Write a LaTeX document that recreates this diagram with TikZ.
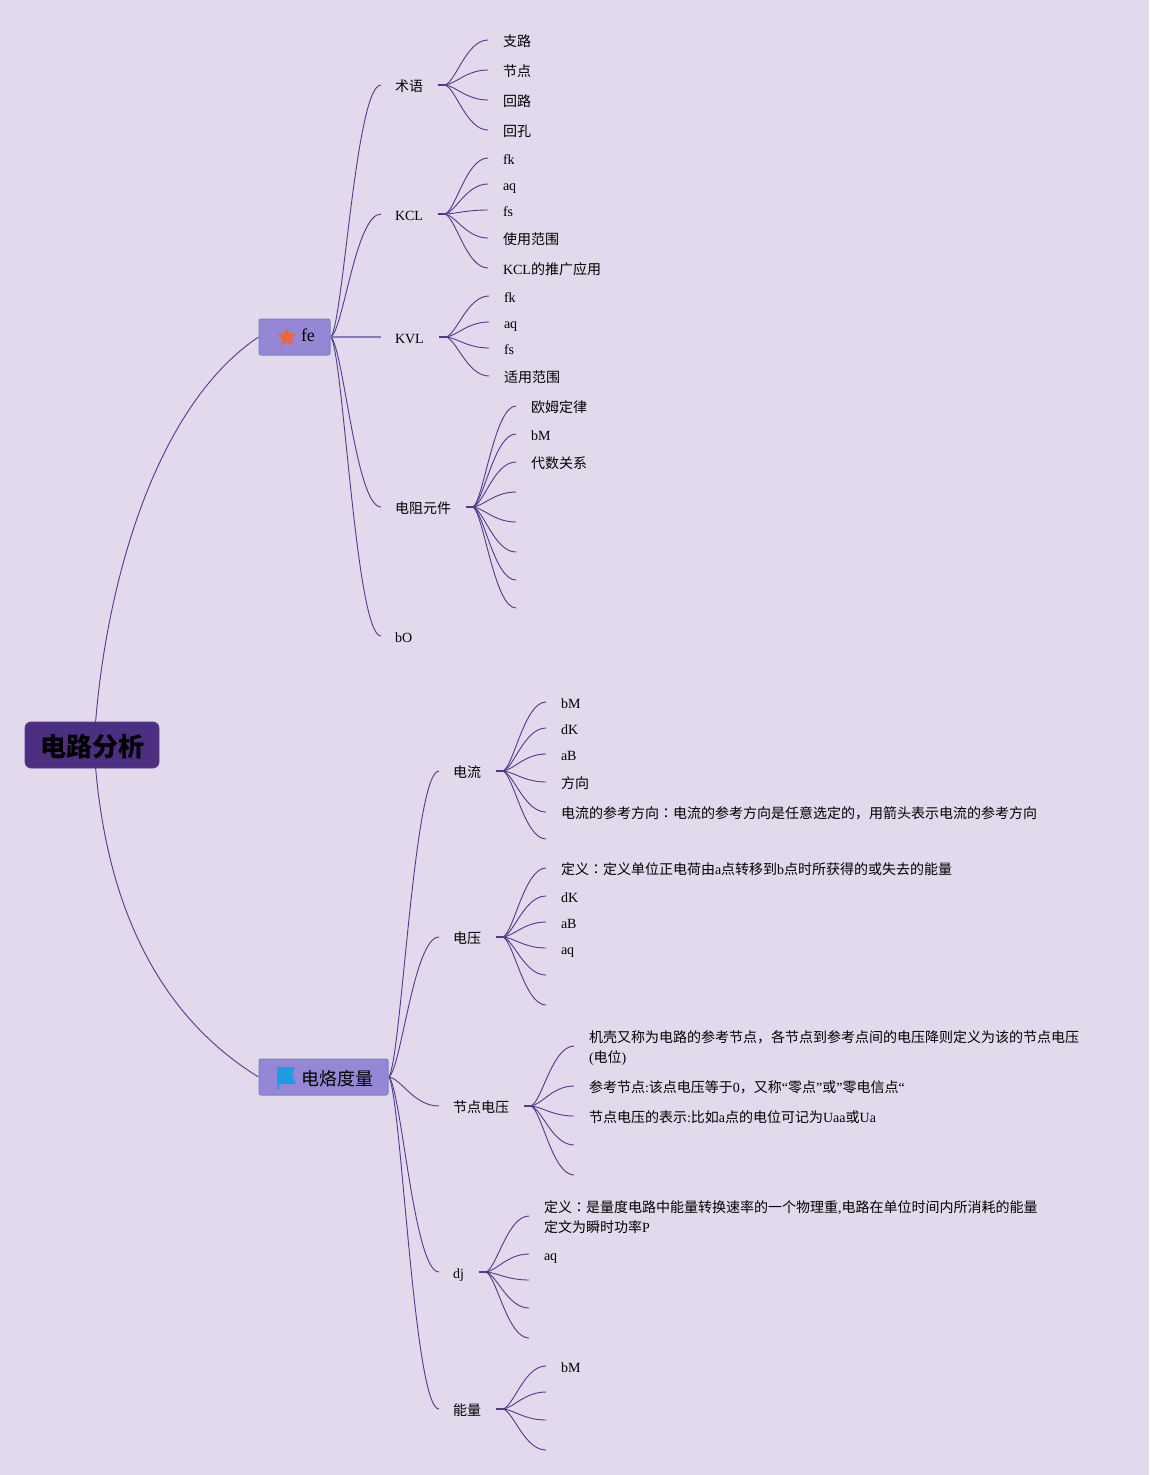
\documentclass[tikz,border=0pt]{standalone}
\usepackage{fontspec}
\usetikzlibrary{shapes.geometric,calc}
\setmainfont{Liberation Serif}
\newfontfamily\cjk{Noto Sans CJK SC}
\newfontfamily\cjktc{Noto Sans CJK TC}
\newcommand\zh[1]{{\cjk #1}}
\newcommand\zc{{\cjktc ：}}
\definecolor{bgc}{HTML}{E2D9EC}
\definecolor{rootc}{HTML}{4C2F80}
\definecolor{rootb}{HTML}{5A3E90}
\definecolor{boxc}{HTML}{9687D6}
\definecolor{boxb}{HTML}{7088B8}
\definecolor{linec}{HTML}{4F3A8C}
\definecolor{softc}{HTML}{8A7CB8}
\definecolor{starc}{HTML}{E8683A}
\definecolor{flagc}{HTML}{1F9BE0}
\pgfdeclarelayer{background}
\pgfsetlayers{background,main}
\tikzset{
  link/.style={draw=linec,line width=0.9pt},
  softlink/.style={draw=softc,line width=1.6pt},
  stub/.style={draw=linec,line width=1.8pt},
  txt/.style={inner sep=0pt,outer sep=0pt,text=black,font=\fontsize{14}{20}\selectfont},
  leaf/.style={txt,anchor=base west},
  rootbox/.style={draw=rootb,fill=rootc,line width=0.8pt,rounded corners=6pt,minimum width=134pt,minimum height=46pt,inner sep=0pt},
  roottext/.style={inner sep=0pt,font=\fontsize{26}{30}\selectfont\bfseries,text=black},
  topicbox/.style={draw=boxb,fill=boxc,line width=1pt,rounded corners=2pt,minimum height=36pt,inner sep=0pt},
}
\newcommand\conn[2]{\path[link] (#1) let \p1=(#1),\p2=(#2) in
  .. controls ({\x1+0.25*(\x2-\x1)},{\y1+0.07*(\y2-\y1)}) and ({\x1+0.5*(\x2-\x1)},{\y2}) .. (#2);}
% name, hub, end x, end y, text x, text
\newcommand\leaf[6]{\coordinate (#1e) at (#3,#4);
  \node[leaf] (#1) at (#5,#4+6) {#6};
  \begin{pgfonlayer}{background}\conn{#2}{#1e}\end{pgfonlayer}}
\newcommand\blank[4]{\coordinate (#1) at (#3,#4);
  \begin{pgfonlayer}{background}\conn{#2}{#1}\end{pgfonlayer}}
% name, parent hub, end x, y, text x, hub x, text
\newcommand\branch[7]{\coordinate (#1e) at (#3,#4);
  \node[leaf] (#1) at (#5,#4+6) {#7};
  \coordinate (#1h) at (#6,#4);
  \begin{pgfonlayer}{background}\conn{#2}{#1e}
  \path[stub] (#1h) -- ++(-7,0);\end{pgfonlayer}}
\begin{document}
\begin{tikzpicture}[x=1pt,y=-1pt]
\useasboundingbox (0,0) rectangle (1149,1475);
\begin{pgfonlayer}{background}
\fill[bgc] (0,0) rectangle (1149,1475);
\end{pgfonlayer}
\node[rootbox] (root) at (92,745) {};
\node[roottext] (roottxt) at (92.5,746.5) {\cjk 电路分析};
\coordinate (rooth) at (94,745);
\node[topicbox,minimum width=71pt] (fe) at (294.5,337) {};
\node[star,star points=5,star point ratio=2.1,fill=starc,draw=none,minimum size=20pt,inner sep=0pt] (festar) at (287,337.5) {};
\node[txt,anchor=base west,font=\fontsize{18}{20}\selectfont] (fetext) at (301,341) {fe};
\node[topicbox,minimum width=129pt] (dl) at (323.5,1077) {};
\fill[flagc] (277,1067) -- (295,1067) -- (292,1075) -- (296,1084) -- (279,1084) -- (279,1089) -- (277,1089) -- cycle;
\node[txt,anchor=base west,font=\fontsize{18}{20}\selectfont] (dltext) at (301,1085) {\cjk 电烙度量};
\coordinate (feh) at (331,337);
\coordinate (dlh) at (389,1077);
\begin{pgfonlayer}{background}
\path[link] (rooth) .. controls (102,600) and (150,410) .. (fe.west);
\path[link] (rooth) .. controls (102,890) and (150,1010) .. (dl.west);
\end{pgfonlayer}
% upper
\branch{a}{feh}{381}{85}{395}{445}{\zh{术语}}
\leaf{a1}{ah}{488}{40}{503}{\zh{支路}}
\leaf{a2}{ah}{488}{70}{503}{\zh{节点}}
\leaf{a3}{ah}{488}{100}{503}{\zh{回路}}
\leaf{a4}{ah}{488}{130}{503}{\zh{回孔}}
\branch{b}{feh}{381}{214}{395}{445}{KCL}
\leaf{b1}{bh}{488}{158}{503}{fk}
\leaf{b2}{bh}{488}{184}{503}{aq}
\leaf{b3}{bh}{488}{210}{503}{fs}
\leaf{b4}{bh}{488}{238}{503}{\zh{使用范围}}
\leaf{b5}{bh}{488}{268}{503}{KCL\zh{的推广应用}}
\coordinate (ce) at (381,337);
\node[leaf] (c) at (395,343) {KVL};
\coordinate (ch) at (446,337);
\begin{pgfonlayer}{background}
\path[softlink] (feh) -- (ce);
\path[stub] (ch) -- ++(-7,0);
\end{pgfonlayer}
\leaf{c1}{ch}{489}{296}{504}{fk}
\leaf{c2}{ch}{489}{322}{504}{aq}
\leaf{c3}{ch}{489}{348}{504}{fs}
\leaf{c4}{ch}{489}{376}{504}{\zh{适用范围}}
\branch{d}{feh}{381}{507}{395}{473}{\zh{电阻元件}}
\leaf{d1}{dh}{516}{406}{531}{\zh{欧姆定律}}
\leaf{d2}{dh}{516}{434}{531}{bM}
\leaf{d3}{dh}{516}{462}{531}{\zh{代数关系}}
\blank{d4}{dh}{516}{492}
\blank{d5}{dh}{516}{522}
\blank{d6}{dh}{516}{552}
\blank{d7}{dh}{516}{580}
\blank{d8}{dh}{516}{608}
\coordinate (ee) at (381,636);
\node[leaf] (e) at (395,642) {bO};
\begin{pgfonlayer}{background}\conn{feh}{ee}\end{pgfonlayer}
% lower
\branch{f}{dlh}{439}{771}{453}{503}{\zh{电流}}
\leaf{f1}{fh}{546}{702}{561}{bM}
\leaf{f2}{fh}{546}{728}{561}{dK}
\leaf{f3}{fh}{546}{754}{561}{aB}
\leaf{f4}{fh}{546}{782}{561}{\zh{方向}}
\leaf{f5}{fh}{546}{812}{561}{\zh{电流的参考方向}\zc\zh{电流的参考方向是任意选定的，用箭头表示电流的参考方向}}
\blank{f6}{fh}{546}{839}
\branch{g}{dlh}{439}{937}{453}{503}{\zh{电压}}
\leaf{g1}{gh}{546}{868}{561}{\zh{定义}\zc\zh{定义单位正电荷由}a\zh{点转移到}b\zh{点时所获得的或失去的能量}}
\leaf{g2}{gh}{546}{896}{561}{dK}
\leaf{g3}{gh}{546}{922}{561}{aB}
\leaf{g4}{gh}{546}{948}{561}{aq}
\blank{g5}{gh}{546}{975}
\blank{g6}{gh}{546}{1005}
\branch{h}{dlh}{439}{1106}{453}{531}{\zh{节点电压}}
\coordinate (h1e) at (574,1046);
\node[txt,anchor=west,align=left] (h1) at (589,1048) {\zh{机壳又称为电路的参考节点，各节点到参考点间的电压降则定义为该的节点电压}\\(\zh{电位})};
\begin{pgfonlayer}{background}\conn{hh}{h1e}\end{pgfonlayer}
\leaf{h2}{hh}{574}{1086}{589}{\zh{参考节点}:\zh{该点电压等于}0\zh{，又称}“\zh{零点}”\zh{或}”\zh{零电信点}“}
\leaf{h3}{hh}{574}{1116}{589}{\zh{节点电压的表示}:\zh{比如}a\zh{点的电位可记为}Uaa\zh{或}Ua}
\blank{h4}{hh}{574}{1145}
\blank{h5}{hh}{574}{1175}
\branch{i}{dlh}{439}{1272}{453}{486}{dj}
\coordinate (i1e) at (529,1216);
\node[txt,anchor=west,align=left] (i1) at (544,1217.5) {\zh{定义}\zc\zh{是量度电路中能量转换速率的一个物理重},\zh{电路在单位时间内所消耗的能量}\\\zh{定文为瞬时功率}P};
\begin{pgfonlayer}{background}\conn{ih}{i1e}\end{pgfonlayer}
\leaf{i2}{ih}{529}{1254}{544}{aq}
\blank{i3}{ih}{529}{1280}
\blank{i4}{ih}{529}{1308}
\blank{i5}{ih}{529}{1338}
\branch{j}{dlh}{439}{1409}{453}{503}{\zh{能量}}
\leaf{j1}{jh}{546}{1366}{561}{bM}
\blank{j2}{jh}{546}{1392}
\blank{j3}{jh}{546}{1420}
\blank{j4}{jh}{546}{1450}
\end{tikzpicture}
\end{document}
